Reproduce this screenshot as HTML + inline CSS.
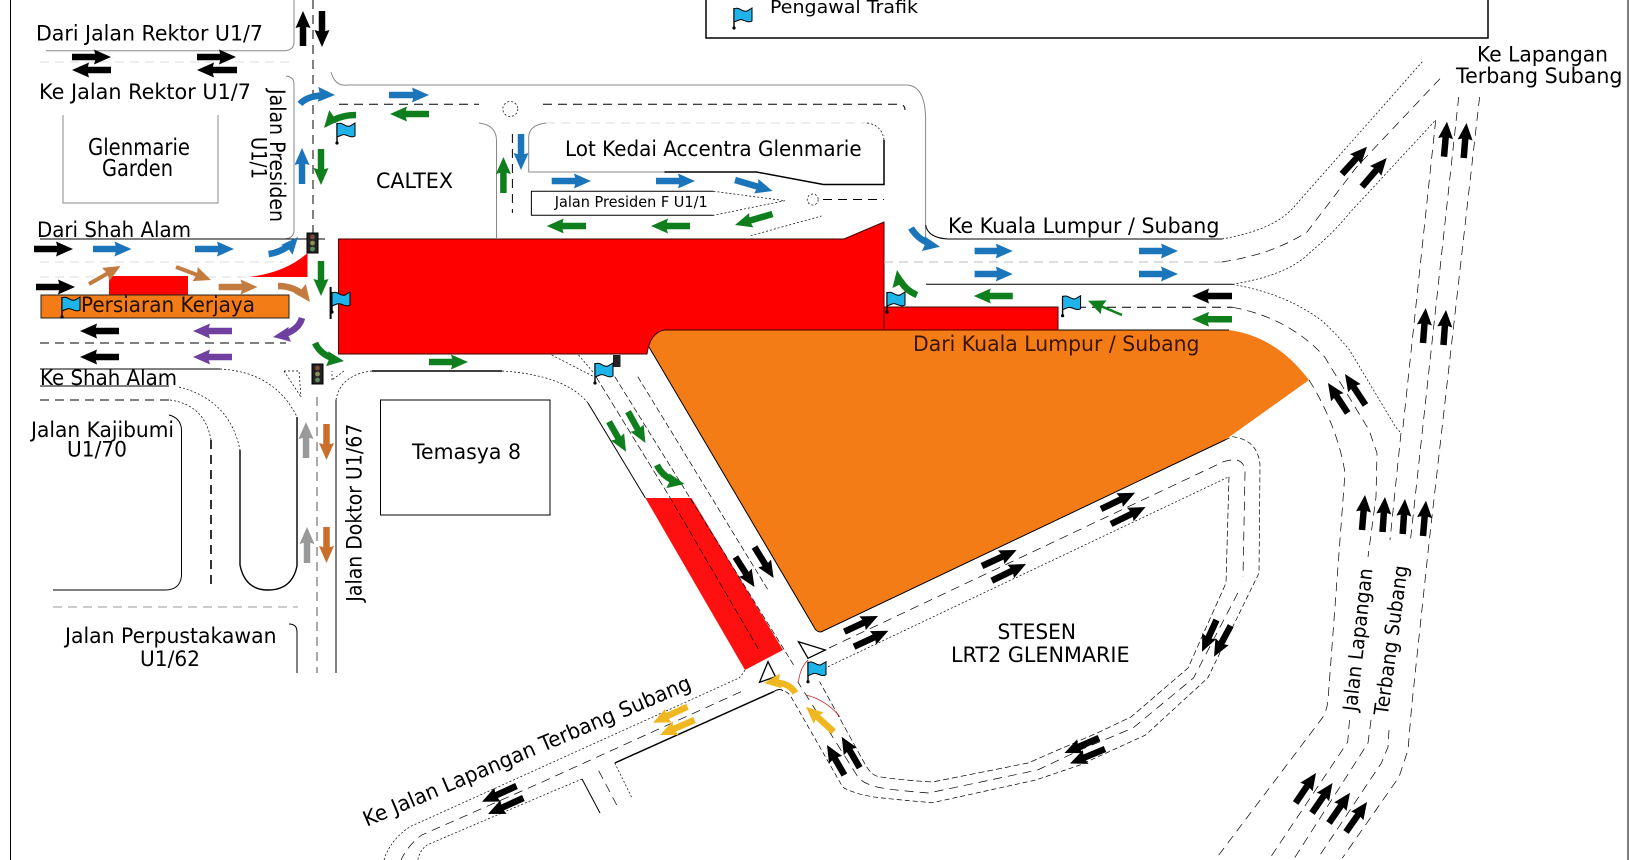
<!DOCTYPE html>
<html><head><meta charset="utf-8"><title>Peta trafik Glenmarie</title>
<style>
html,body{margin:0;padding:0;background:#fff}
svg{display:block}
text{font-family:"DejaVu Sans","Liberation Sans",sans-serif;font-size:21px;fill:#000}
.n{fill:none}
.t{fill:none;stroke:#000;stroke-width:1}
.k{fill:none;stroke:#000;stroke-width:2}
.g{fill:none;stroke:#888;stroke-width:1}
.d{fill:none;stroke:#000;stroke-width:.7;stroke-dasharray:2 2}
.m{fill:none;stroke:#000;stroke-width:1;stroke-dasharray:9 6}
.f{fill:none;stroke:#ddd;stroke-width:1;stroke-dasharray:9 6}
.a{fill:none;stroke-width:6.5;stroke-dasharray:66 100}
.ak{stroke:#000}.ab{stroke:#1a75bb}.ag{stroke:#0f7f1e}.ar{stroke:#c47b40}.ao{stroke:#c96f2b}.ap{stroke:#7040a0}.ay{stroke:#999}.al{stroke:#f0b820}
</style></head>
<body>
<svg width="1629" height="860" viewBox="0 0 1629 860" xmlns="http://www.w3.org/2000/svg">
<defs>
<marker id="hk" markerUnits="userSpaceOnUse" markerWidth="17" markerHeight="15" viewBox="0 0 17 15" refX="17" refY="7.5" orient="auto"><path d="M0,0L17,7.5L0,15L2,7.5Z" fill="#000"/></marker>
<marker id="hb" markerUnits="userSpaceOnUse" markerWidth="17" markerHeight="15" viewBox="0 0 17 15" refX="17" refY="7.5" orient="auto"><path d="M0,0L17,7.5L0,15L2,7.5Z" fill="#1a75bb"/></marker>
<marker id="hg" markerUnits="userSpaceOnUse" markerWidth="17" markerHeight="15" viewBox="0 0 17 15" refX="17" refY="7.5" orient="auto"><path d="M0,0L17,7.5L0,15L2,7.5Z" fill="#0f7f1e"/></marker>
<marker id="hr" markerUnits="userSpaceOnUse" markerWidth="17" markerHeight="15" viewBox="0 0 17 15" refX="17" refY="7.5" orient="auto"><path d="M0,0L17,7.5L0,15L2,7.5Z" fill="#c47b40"/></marker>
<marker id="ho" markerUnits="userSpaceOnUse" markerWidth="17" markerHeight="15" viewBox="0 0 17 15" refX="17" refY="7.5" orient="auto"><path d="M0,0L17,7.5L0,15L2,7.5Z" fill="#c96f2b"/></marker>
<marker id="hp" markerUnits="userSpaceOnUse" markerWidth="17" markerHeight="15" viewBox="0 0 17 15" refX="17" refY="7.5" orient="auto"><path d="M0,0L17,7.5L0,15L2,7.5Z" fill="#7040a0"/></marker>
<marker id="hy" markerUnits="userSpaceOnUse" markerWidth="17" markerHeight="15" viewBox="0 0 17 15" refX="17" refY="7.5" orient="auto"><path d="M0,0L17,7.5L0,15L2,7.5Z" fill="#999"/></marker>
<marker id="hl" markerUnits="userSpaceOnUse" markerWidth="17" markerHeight="15" viewBox="0 0 17 15" refX="17" refY="7.5" orient="auto"><path d="M0,0L17,7.5L0,15L2,7.5Z" fill="#f0b820"/></marker>
<g id="flag"><path d="M0,0V-20" stroke="#000" stroke-width="1.4" fill="none"/><circle cx="0" cy="0" r="1.6" fill="#000"/><path d="M0,-19C5,-22 9,-15 13,-17L18,-20L18,-7C13,-4 9,-10 5,-8L0,-6Z" fill="#1eb4ea" stroke="#000" stroke-width="1"/></g>
<g id="light"><rect x="0" y="0" width="11" height="20" fill="#222" stroke="#000"/><circle cx="5.5" cy="4" r="2.4" fill="#7a4a3a"/><circle cx="5.5" cy="10" r="2.4" fill="#8a8a5a"/><circle cx="5.5" cy="16" r="2.4" fill="#5a8a5a"/></g>
</defs>
<rect width="1629" height="860" fill="#fff"/>
<path d="M10.5,0V860M1628,0V860" class="t"/>
<path d="M706,0V38H1488V0" class="k" style="stroke-width:1.5"/>

<!-- fills -->
<path d="M665,330H1229C1265,335 1290,355 1309,380L1225,440L821,632Q816,632 814,627L649,347Q646,332 665,330Z" fill="#f47c16" stroke="none"/>
<path d="M665,330H1229M649,347L814,627Q816,632 821,632L1225,440" class="t"/>
<path d="M338.5,239H844L884,222V330H665Q650,332 647,354H338.5Z" fill="#fe0000" stroke="#400" stroke-width="1"/>
<rect x="884" y="307" width="174" height="23" fill="#fe0000" stroke="#400" stroke-width="1"/>
<path d="M40,262H283M40,277H105M192,277H250" class="f"/>
<rect x="109" y="276" width="79" height="19" fill="#fe0000"/>
<path d="M248,277Q285,273 307.5,253V277Z" fill="#fe0000"/>
<path d="M645.4,498H691.4L783,650L745,670L645.4,498Z" fill="#fe1010"/>
<rect x="41" y="295" width="248" height="23" fill="#f47c16" stroke="#222" stroke-width="1"/>

<!-- west & north roads -->
<path d="M46,50.7H285Q294,50 294,42V0" class="g"/>
<path d="M40,62H290" class="f"/>
<path d="M286,76Q294,77 294,84V230Q294,238 285,239" class="g"/>
<path d="M40,239H325" class="t"/>
<path d="M313,0V238" class="m"/>
<path d="M331,72Q335,87 348,85H907Q925,86 925.6,118V245" class="g"/>
<path d="M925.6,225Q928,238 948,239H1222" class="t"/>
<path d="M40,343H286" class="m"/>
<path d="M63,115V203H218V115" class="g"/>
<path d="M40,369H220" class="t"/>
<path d="M220,369Q275,372 297,417" class="d"/>
<path d="M297,417V566Q292,590 268,590Q245,590 240,565V450" class="t" style="stroke-width:1.4"/>
<path d="M179,387Q230,400 240,450" class="d"/>
<path d="M40,386H169" class="t"/>
<path d="M40,400H170" class="m"/>
<path d="M170,400Q205,405 211,440" class="d"/>
<path d="M211,440V587" class="m" style="stroke-width:1.6"/>
<path d="M169,415Q181,418 181.5,430V576Q180,590 165,590H53" class="t"/>
<path d="M53,607H298" class="m" style="stroke:#999"/>
<path d="M289,624Q297,624 297,632V673" class="t"/>
<path d="M317,397V673" class="m" style="stroke:#555"/>
<path d="M336,400V673" class="t"/>
<path d="M336,400Q340,375 372,371" class="d"/>
<path d="M372,371H502" class="k" style="stroke-width:1.5"/>
<path d="M502,371Q565,375 588,403" class="d"/>
<path d="M588,403L645.4,498" class="t"/>
<path d="M284,371H299L301,397M284,371L301,397" class="d"/>
<path d="M332,380V371M344,371L332,380" class="d"/>
<rect x="380.5" y="400" width="169.5" height="115" class="t"/>

<!-- caltex / lot kedai -->
<path d="M339,104.3H479M543,104.3H898Q905,104 905,110" class="m"/>
<circle cx="510.3" cy="109" r="7.5" class="d"/>
<path d="M479,123Q496,125 496.5,140V239" class="g"/>
<path d="M512.4,134V213" class="m"/>
<path d="M546,123Q529,125 528.7,137V172H664.5" class="g"/>
<path d="M664.5,172H756.4L823.4,184.5H884V140" class="k" style="stroke-width:1.5"/>
<path d="M884,140Q882,125 867,123" class="d"/>
<path d="M546,123H867" class="f"/>
<path d="M713.5,191.3H531.4V215.3H713.5" class="t"/>
<path d="M713.5,191.3L785,200.7L713.5,215.3" class="d"/>
<circle cx="812.7" cy="199.5" r="5.5" class="d"/>
<path d="M823,199.5H884" class="m"/>
<path d="M750.7,235.7L821.5,216" class="d"/>

<!-- east road -->
<path d="M884,262H1222" class="f" style="stroke:#bbb"/>
<path d="M926,284.3H1232.5" class="t"/>
<path d="M1062,307.3H1232.5" class="m"/>
<path d="M1222,239C1260,232 1280,222 1293,208L1423,61" class="d"/>
<path d="M1222,262C1260,256 1285,246 1307,232L1356.6,167L1443.5,75" class="m" style="stroke-width:.7"/>
<path d="M1232.5,284.3C1270,278 1295,268 1310.5,252C1325,240 1340,225 1349.5,213L1435.7,120" class="d"/>
<path d="M1232.5,284.3C1275,292 1300,305 1321,320C1335,332 1345,345 1349.5,350L1395.6,427L1401,433" class="d"/>
<path d="M1232.5,307.3C1275,315 1305,335 1324.7,357L1369,430L1377,453L1376,497L1368,557" class="m" style="stroke-width:.7"/>
<path d="M1309,380C1325,405 1340,440 1345,473L1328,700Q1327,710 1323,717L1216.5,858" class="m" style="stroke-width:.7"/>
<path d="M1349.5,720L1347.7,742L1270,858" class="m" style="stroke-width:.7"/>
<path d="M1401,433L1390,540M1371,720L1368,743L1294.5,858" class="m" style="stroke-width:.7"/>
<path d="M1458.7,97L1410.5,540M1389,730L1388,747L1381.4,763L1318,858" class="m" style="stroke-width:.7"/>
<path d="M1479.6,97L1429,543L1411.6,707L1408,750L1399,777L1342.4,858" class="m" style="stroke-width:.7"/>
<path d="M1435.7,120L1402.7,430" class="m" style="stroke-width:.7"/>

<!-- loop -->
<path d="M1225,440L1232.5,436.7Q1258,440 1260,465L1259,573L1207.7,678L1145.6,735L1080,765L1035.8,780L932.5,802.7Q900,800 882.7,798Q860,796 844,788Q842,786 838.7,780L791,696.7Q788,692 783,690.7" class="d" style="stroke-dasharray:5 3"/>
<path d="M829,648L1223.6,461.7Q1245,455 1245,473L1243,576.7" class="m" style="stroke-width:.7"/>
<path d="M1237.8,593L1193.5,678L1133,728L1080,750L1037.7,770L928.6,793Q890,790 877,787Q862,783 857.8,776.7L797.7,681.7" class="m" style="stroke-width:.7"/>
<path d="M828,666.7L1229,476.7" class="d"/>
<path d="M1229,476.7L1226,583L1188,668L1131.4,716.7L1100,731.7L1028,763L932.5,782Q900,780 879,776.7Q872,776 865.5,765L819.6,681.7" class="d" style="stroke-dasharray:6 3"/>

<!-- diagonal -->
<path d="M551.7,355L593.8,376.7M578.5,355L593,372" class="d"/>
<path d="M614.8,376.7L794.7,666.7" class="d" style="stroke-dasharray:6 3"/>
<path d="M637.8,376.7L768,590" class="d" style="stroke-dasharray:6 3"/>
<path d="M596,376.7L670.3,498L760,651.7" class="d" style="stroke-dasharray:7 3"/>
<path d="M798.5,681.7Q800,668 808,660" fill="none" stroke="#c22" stroke-width=".8"/>
<path d="M806,695Q826,700 840,716.7" fill="none" stroke="#c22" stroke-width=".8"/>

<!-- southwest road -->
<path d="M745,670Q742,675 739,678L540,768L410,826.7Q390,840 384,860" class="d"/>
<path d="M741,691.7L540,783L421.8,835Q408,845 401,860" class="m" style="stroke-width:.7"/>
<path d="M773.6,691.7L614.8,763" class="t" style="stroke-width:1.5"/>
<path d="M773.6,691.7Q780,688 783,690.7" class="t"/>
<path d="M582,779L540,796.7L427,845Q420,850 417.7,860" class="d"/>
<path d="M582,779L600,813" class="t"/>
<path d="M598.7,770.7L616.7,805" class="m" style="stroke-width:.7"/>
<path d="M614.8,763L632,798" class="d"/>

<!-- triangles -->
<path d="M798.5,641.7L825.3,650L808,658.3Z" fill="#fff" stroke="#000" stroke-width="1.3"/>
<path d="M768,661.7L775.5,676.7L759.5,682.3Z" fill="#fff" stroke="#000" stroke-width="1.3"/>

<!-- arrows -->
<g class="n">
<path pathLength="100" class="a ak" marker-end="url(#hk)" d="M303,46V11"/>
<path pathLength="100" class="a ak" marker-end="url(#hk)" d="M322,11V47"/>
<path pathLength="100" class="a ak" marker-end="url(#hk)" d="M72,57H111"/>
<path pathLength="100" class="a ak" marker-end="url(#hk)" d="M197,57H236"/>
<path pathLength="100" class="a ak" marker-end="url(#hk)" d="M111,70H72"/>
<path pathLength="100" class="a ak" marker-end="url(#hk)" d="M237,70H197"/>
<path pathLength="100" class="a ab" marker-end="url(#hb)" d="M300,104Q308,94 335,95"/>
<path pathLength="100" class="a ab" marker-end="url(#hb)" d="M389,95H429"/>
<path pathLength="100" class="a ag" marker-end="url(#hg)" d="M429,114H390"/>
<path pathLength="100" class="a ag" marker-end="url(#hg)" d="M356,115Q335,115 324,128"/>
<path pathLength="100" class="a ab" marker-end="url(#hb)" d="M302,184V148"/>
<path pathLength="100" class="a ag" marker-end="url(#hg)" d="M321,149V185"/>
<path pathLength="100" class="a ak" marker-end="url(#hk)" d="M34,249H73"/>
<path pathLength="100" class="a ab" marker-end="url(#hb)" d="M93,249H131.5"/>
<path pathLength="100" class="a ab" marker-end="url(#hb)" d="M195,249H234"/>
<path pathLength="100" class="a ab" marker-end="url(#hb)" d="M268.6,254Q285,252 298,237"/>
<path pathLength="100" class="a ag" marker-end="url(#hg)" d="M321,261V296"/>
<path pathLength="100" class="a ar" style="stroke-width:4" marker-end="url(#hr)" d="M89,284L120.5,266"/>
<path pathLength="100" class="a ar" style="stroke-width:4" marker-end="url(#hr)" d="M176,267L211,280"/>
<path pathLength="100" class="a ar" marker-end="url(#hr)" d="M218.7,287H257.6"/>
<path pathLength="100" class="a ar" marker-end="url(#hr)" d="M278,286Q298,286 310,302"/>
<path pathLength="100" class="a ak" marker-end="url(#hk)" d="M36,287H75"/>
<path pathLength="100" class="a ak" marker-end="url(#hk)" d="M119,331H80"/>
<path pathLength="100" class="a ap" marker-end="url(#hp)" d="M232,331H193"/>
<path pathLength="100" class="a ap" marker-end="url(#hp)" d="M302,318Q298,333 273,337"/>
<path pathLength="100" class="a ak" marker-end="url(#hk)" d="M119,357H80"/>
<path pathLength="100" class="a ap" marker-end="url(#hp)" d="M232,357H193"/>
<path pathLength="100" class="a ag" marker-end="url(#hg)" d="M315,343Q322,358 344,361"/>
<path pathLength="100" class="a ag" marker-end="url(#hg)" d="M429,362H468"/>
<path pathLength="100" class="a ay" marker-end="url(#hy)" d="M306,458V422"/>
<path pathLength="100" class="a ay" marker-end="url(#hy)" d="M307,563V527"/>
<path pathLength="100" class="a ao" marker-end="url(#ho)" d="M326.5,424V460"/>
<path pathLength="100" class="a ao" marker-end="url(#ho)" d="M326.5,527V563"/>
<path pathLength="100" class="a ab" marker-end="url(#hb)" d="M521,134V170"/>
<path pathLength="100" class="a ag" marker-end="url(#hg)" d="M503.4,193V157"/>
<path pathLength="100" class="a ab" marker-end="url(#hb)" d="M551.7,181H591"/>
<path pathLength="100" class="a ab" marker-end="url(#hb)" d="M656,181H695"/>
<path pathLength="100" class="a ab" marker-end="url(#hb)" d="M735,180L772.5,191"/>
<path pathLength="100" class="a ag" marker-end="url(#hg)" d="M586,226H546.7"/>
<path pathLength="100" class="a ag" marker-end="url(#hg)" d="M690,226H651"/>
<path pathLength="100" class="a ag" marker-end="url(#hg)" d="M772.5,214L735,225"/>
<path pathLength="100" class="a ab" marker-end="url(#hb)" d="M911,228Q920,243 940,246.7"/>
<path pathLength="100" class="a ab" marker-end="url(#hb)" d="M974.6,251H1012.8"/>
<path pathLength="100" class="a ab" marker-end="url(#hb)" d="M974.6,274H1012.8"/>
<path pathLength="100" class="a ab" marker-end="url(#hb)" d="M1139,251H1178"/>
<path pathLength="100" class="a ab" marker-end="url(#hb)" d="M1139,274H1178"/>
<path pathLength="100" class="a ag" marker-end="url(#hg)" d="M1012.8,296H973.8"/>
<path pathLength="100" class="a ag" marker-end="url(#hg)" d="M917,295Q900,288 897,270"/>
<path pathLength="100" class="a ag" style="stroke-width:2.5" marker-end="url(#hg)" d="M1122,315L1088,300.7"/>
<path pathLength="100" class="a ak" marker-end="url(#hk)" d="M1232,296H1192"/>
<path pathLength="100" class="a ag" marker-end="url(#hg)" d="M1232,319.3H1192"/>
<path pathLength="100" class="a ak" marker-end="url(#hk)" d="M1342,174L1367,146.7"/>
<path pathLength="100" class="a ak" marker-end="url(#hk)" d="M1362,186.7L1386.7,158"/>
<path pathLength="100" class="a ak" marker-end="url(#hk)" d="M1444,156.7L1447,121.7"/>
<path pathLength="100" class="a ak" marker-end="url(#hk)" d="M1463.7,158L1466.5,123"/>
<path pathLength="100" class="a ak" marker-end="url(#hk)" d="M1423,343L1425.7,308"/>
<path pathLength="100" class="a ak" marker-end="url(#hk)" d="M1443.5,345L1446,310"/>
<path pathLength="100" class="a ak" marker-end="url(#hk)" d="M1347.7,413L1328,383"/>
<path pathLength="100" class="a ak" marker-end="url(#hk)" d="M1365.5,405L1345,374"/>
<path pathLength="100" class="a ak" marker-end="url(#hk)" d="M1362,530L1365,495"/>
<path pathLength="100" class="a ak" marker-end="url(#hk)" d="M1382.5,532L1385,497"/>
<path pathLength="100" class="a ak" marker-end="url(#hk)" d="M1402.7,534L1405,499"/>
<path pathLength="100" class="a ak" marker-end="url(#hk)" d="M1423,536L1426,500.7"/>
<path pathLength="100" class="a ak" marker-end="url(#hk)" d="M1295.6,803L1316,773"/>
<path pathLength="100" class="a ak" marker-end="url(#hk)" d="M1312,813L1332.5,783"/>
<path pathLength="100" class="a ak" marker-end="url(#hk)" d="M1329,823L1350,792.7"/>
<path pathLength="100" class="a ak" marker-end="url(#hk)" d="M1346,832L1367,802"/>
<path pathLength="100" class="a ak" marker-end="url(#hk)" d="M844.4,631.7L878,616"/>
<path pathLength="100" class="a ak" marker-end="url(#hk)" d="M854,646.7L888.4,630.7"/>
<path pathLength="100" class="a ak" marker-end="url(#hk)" d="M982,566L1016.6,550"/>
<path pathLength="100" class="a ak" marker-end="url(#hk)" d="M991.8,580.7L1026,564"/>
<path pathLength="100" class="a ak" marker-end="url(#hk)" d="M1101,509L1135,492.7"/>
<path pathLength="100" class="a ak" marker-end="url(#hk)" d="M1111,524L1145.6,507"/>
<path pathLength="100" class="a ak" marker-end="url(#hk)" d="M1216.5,620L1202,651.7"/>
<path pathLength="100" class="a ak" marker-end="url(#hk)" d="M1230.7,625.7L1214,656.7"/>
<path pathLength="100" class="a ak" marker-end="url(#hk)" d="M1099,738L1064.5,753"/>
<path pathLength="100" class="a ak" marker-end="url(#hk)" d="M1105,749L1070,763.5"/>
<path pathLength="100" class="a ag" marker-end="url(#hg)" d="M609,421.7L626,451.7"/>
<path pathLength="100" class="a ag" marker-end="url(#hg)" d="M628,411.7L645.4,443"/>
<path pathLength="100" class="a ag" marker-end="url(#hg)" d="M657,465Q664,480 684.5,484"/>
<path pathLength="100" class="a ak" marker-end="url(#hk)" d="M735.4,557L754.5,587"/>
<path pathLength="100" class="a ak" marker-end="url(#hk)" d="M754.5,547L773.6,578"/>
<path pathLength="100" class="a al" marker-end="url(#hl)" d="M795.4,693Q788,680 764,683"/>
<path pathLength="100" class="a al" marker-end="url(#hl)" d="M833.7,731.7L806,706.7"/>
<path pathLength="100" class="a ak" marker-end="url(#hk)" d="M844.4,775L827,745"/>
<path pathLength="100" class="a ak" marker-end="url(#hk)" d="M859.7,767.7L841.7,736.7"/>
<path pathLength="100" class="a al" marker-end="url(#hl)" d="M687.5,706.7L653,722.7"/>
<path pathLength="100" class="a al" marker-end="url(#hl)" d="M694.4,720L660,735"/>
<path pathLength="100" class="a ak" marker-end="url(#hk)" d="M516.5,786L482,801.7"/>
<path pathLength="100" class="a ak" marker-end="url(#hk)" d="M523.4,798L488,814"/>
</g>

<!-- signals & flags -->
<use href="#light" transform="translate(307,233)"/>
<use href="#light" transform="translate(312,364)"/>
<rect x="613" y="355" width="7.5" height="12" fill="#222"/>
<use href="#flag" transform="translate(337,143)"/>
<use href="#flag" transform="translate(62,317)"/>
<path d="M330.6,287V319" stroke="#000" stroke-width="2"/>
<use href="#flag" transform="translate(332,312)"/>
<use href="#flag" transform="translate(887,312)"/>
<use href="#flag" transform="translate(1062.6,315.7)"/>
<use href="#flag" transform="translate(595,383)"/>
<use href="#flag" transform="translate(808,681.7)"/>
<use href="#flag" transform="translate(734,28)"/>

<!-- labels -->
<text x="770" y="13" textLength="148" lengthAdjust="spacingAndGlyphs" style="font-size:18px">Pengawal Trafik</text>
<text x="36" y="40.7" textLength="227" lengthAdjust="spacingAndGlyphs">Dari Jalan Rektor U1/7</text>
<text x="39" y="99" textLength="212" lengthAdjust="spacingAndGlyphs">Ke Jalan Rektor U1/7</text>
<text x="88" y="155" textLength="102" lengthAdjust="spacingAndGlyphs" style="font-size:23px">Glenmarie</text>
<text x="102" y="176" textLength="71" lengthAdjust="spacingAndGlyphs" style="font-size:23px">Garden</text>
<text transform="translate(270,89) rotate(90)" textLength="133" lengthAdjust="spacingAndGlyphs">Jalan Presiden</text>
<text transform="translate(251.4,137) rotate(90)" textLength="42" lengthAdjust="spacingAndGlyphs">U1/1</text>
<text x="376" y="188" textLength="77" lengthAdjust="spacingAndGlyphs">CALTEX</text>
<text x="37" y="237" textLength="154" lengthAdjust="spacingAndGlyphs">Dari Shah Alam</text>
<text x="81" y="312" textLength="174" lengthAdjust="spacingAndGlyphs" style="fill:#201005">Persiaran Kerjaya</text>
<text x="40" y="385" textLength="137" lengthAdjust="spacingAndGlyphs">Ke Shah Alam</text>
<text x="31" y="437" textLength="143" lengthAdjust="spacingAndGlyphs">Jalan Kajibumi</text>
<text x="67" y="456.7" textLength="60" lengthAdjust="spacingAndGlyphs">U1/70</text>
<text x="65" y="643" textLength="211.5" lengthAdjust="spacingAndGlyphs">Jalan Perpustakawan</text>
<text x="140" y="666" textLength="60" lengthAdjust="spacingAndGlyphs">U1/62</text>
<text transform="translate(361.6,601.7) rotate(-90)" textLength="178" lengthAdjust="spacingAndGlyphs">Jalan Doktor U1/67</text>
<text x="412" y="459" textLength="109" lengthAdjust="spacingAndGlyphs">Temasya 8</text>
<text x="565" y="156" textLength="296.6" lengthAdjust="spacingAndGlyphs">Lot Kedai Accentra Glenmarie</text>
<text x="554.7" y="207" textLength="153" lengthAdjust="spacingAndGlyphs" style="font-size:15px">Jalan Presiden F U1/1</text>
<text x="948" y="233" textLength="271.4" lengthAdjust="spacingAndGlyphs">Ke Kuala Lumpur / Subang</text>
<text x="913" y="351" textLength="286.5" lengthAdjust="spacingAndGlyphs" style="fill:#3a1500">Dari Kuala Lumpur / Subang</text>
<text x="1477" y="61.7" textLength="131" lengthAdjust="spacingAndGlyphs">Ke Lapangan</text>
<text x="1456" y="83" textLength="166.5" lengthAdjust="spacingAndGlyphs">Terbang Subang</text>
<text transform="translate(1356.6,711.7) rotate(-83.6)" textLength="143.6" lengthAdjust="spacingAndGlyphs" style="font-size:20px">Jalan Lapangan</text>
<text transform="translate(1387.8,716) rotate(-82.4)" textLength="151" lengthAdjust="spacingAndGlyphs" style="font-size:20px">Terbang Subang</text>
<text transform="translate(366.7,826.7) rotate(-23)" textLength="354" lengthAdjust="spacingAndGlyphs">Ke Jalan Lapangan Terbang Subang</text>
<text x="997.5" y="639" textLength="78.5" lengthAdjust="spacingAndGlyphs">STESEN</text>
<text x="951" y="662" textLength="178.6" lengthAdjust="spacingAndGlyphs">LRT2 GLENMARIE</text>
</svg>
</body></html>
